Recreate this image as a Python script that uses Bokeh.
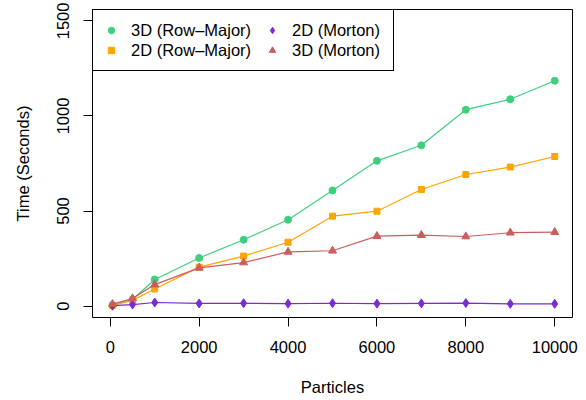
from bokeh.plotting import figure
from bokeh.models import Legend, LegendItem, FixedTicker, Range1d
from bokeh.embed import file_html
from bokeh.resources import INLINE

particles = [50, 500, 1000, 2000, 3000, 4000, 5000, 6000, 7000, 8000, 9000, 10000]
row_major_3d = [5, 35, 140, 253, 349, 454, 608, 764, 846, 1033, 1088, 1185]
row_major_2d = [4, 30, 90, 205, 263, 336, 473, 499, 613, 692, 731, 787]
morton_2d = [2, 8, 19, 14, 15, 13, 15, 13, 14, 16, 12, 12]
morton_3d = [10, 40, 113, 201, 229, 285, 291, 368, 373, 366, 386, 389]
x_ticks = [0, 2000, 4000, 6000, 8000, 10000]
y_ticks = [0, 500, 1000, 1500]

FONT = "Liberation Sans"
FS = "16.5px"

p = figure(width=586, height=400, output_backend="svg", toolbar_location=None,
           x_range=Range1d(-400, 10400), y_range=Range1d(-60, 1560),
           min_border_left=92, min_border_right=14, min_border_top=9, min_border_bottom=83)
p.background_fill_color = "white"
p.border_fill_color = "white"
p.outline_line_color = "black"
p.outline_line_width = 1
p.outline_line_alpha = 1
p.grid.visible = False

p.xaxis.ticker = FixedTicker(ticks=x_ticks)
p.yaxis.ticker = FixedTicker(ticks=y_ticks)
for ax in (p.xaxis[0], p.yaxis[0]):
    ax.axis_line_color = None
    ax.major_tick_in = 0
    ax.major_tick_out = 9
    ax.major_tick_line_color = "black"
    ax.minor_tick_line_color = None
    ax.major_label_text_font = FONT
    ax.major_label_text_font_size = FS
    ax.major_label_text_color = "black"
    ax.axis_label_text_font = FONT
    ax.axis_label_text_font_size = FS
    ax.axis_label_text_font_style = "normal"
    ax.axis_label_text_color = "black"
p.xaxis.axis_label = "Particles"
p.yaxis.axis_label = "Time (Seconds)"
p.yaxis.major_label_orientation = "vertical"
p.xaxis.major_label_standoff = 14
p.xaxis.axis_label_standoff = 22
p.yaxis.major_label_standoff = 14
p.yaxis.axis_label_standoff = 23

series = [
    ("3D (Row–Major)", row_major_3d, "#3ECF7E", "circle"),
    ("2D (Row–Major)", row_major_2d, "#FFA500", "square"),
    ("2D (Morton)", morton_2d, "#7B2AD6", "diamond"),
    ("3D (Morton)", morton_3d, "#CD5C5C", "triangle"),
]
sizes = {"circle": 7, "square": 6, "diamond": 9, "triangle": 8}
items = []
for label, ys, color, marker in series:
    p.line(particles, ys, line_color=color, line_width=1.2)
    r = p.scatter(particles, ys, marker=marker, size=sizes[marker],
                  fill_color=color, line_color=color)
    items.append(LegendItem(label=label, renderers=[r]))

common = dict(orientation="vertical", label_text_font=FONT, label_text_font_size=FS,
              label_text_color="black", glyph_width=16, glyph_height=18,
              label_height=20, label_standoff=12, padding=10, spacing=0, margin=0)

# first column (with the surrounding box spanning both columns)
legend_a = Legend(items=items[:2], location="top_left", label_width=252,
                  border_line_color="black", border_line_width=1, border_line_alpha=1,
                  background_fill_color="white", background_fill_alpha=1, **common)
# second column drawn inside the same box
legend_b = Legend(items=items[2:], location=(172, 257), label_width=10,
                  border_line_color=None, background_fill_alpha=0, **common)
p.add_layout(legend_a, "center")
p.add_layout(legend_b, "center")

open("out.html", "w").write(file_html(p, INLINE))
